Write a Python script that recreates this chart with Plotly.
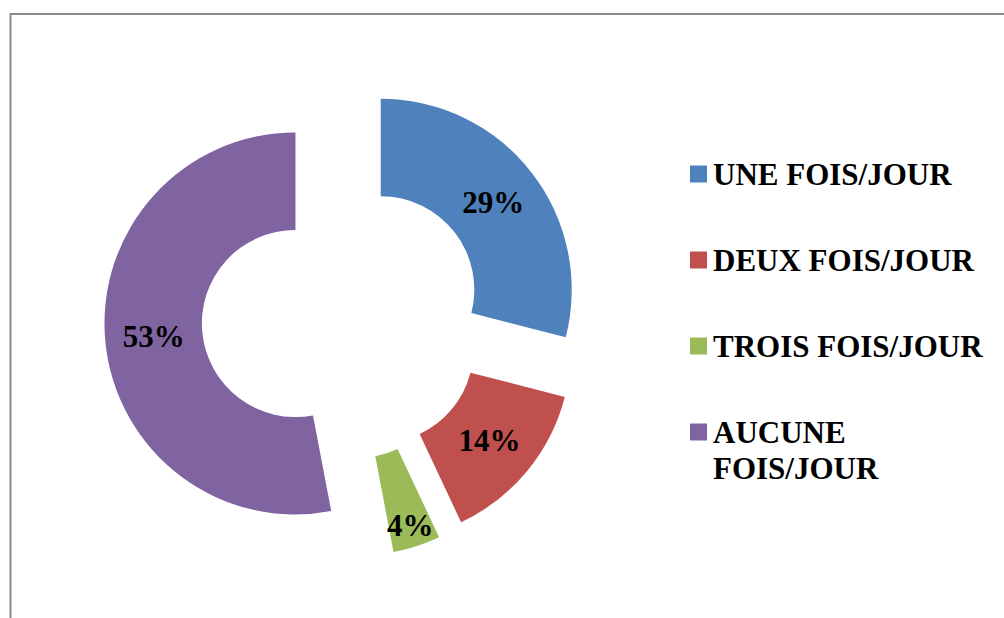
import plotly.graph_objects as go

# Daily frequency breakdown
labels = ["UNE FOIS/JOUR", "DEUX FOIS/JOUR", "TROIS FOIS/JOUR", "AUCUNE FOIS/JOUR"]
legend_lines = [["UNE FOIS/JOUR"], ["DEUX FOIS/JOUR"], ["TROIS FOIS/JOUR"], ["AUCUNE", "FOIS/JOUR"]]
values = [29, 14, 4, 53]
colors = ["#4F81BD", "#C0504D", "#9BBB59", "#8064A2"]

W, H = 1004, 618
FONT = "Liberation Serif, Times New Roman, serif"
FS = 31

# pie geometry in pixels
cx, cy = 343, 319
R = 191
pull = 0.25
half = R * (1 + pull)

fig = go.Figure(
    go.Pie(
        labels=labels,
        values=values,
        marker=dict(colors=colors, line=dict(width=0)),
        hole=0.49,
        pull=[pull] * len(values),
        sort=False,
        direction="clockwise",
        rotation=0,
        textinfo="percent",
        texttemplate="%{percent:.0%}",
        textposition="inside",
        insidetextorientation="horizontal",
        textfont=dict(family=FONT, size=FS, color="black", weight="bold"),
        hoverinfo="label+percent",
        showlegend=False,
        domain=dict(
            x=[(cx - half) / W, (cx + half) / W],
            y=[1 - (cy + half) / H, 1 - (cy - half) / H],
        ),
    )
)

# legend drawn as coloured squares with bold labels
shapes = []
annotations = []
leg_x_sq = 690
sq = 17
leg_x_txt = 711
leg_y0 = 174
leg_step = 86
line_step = 36
for i, (lines, col) in enumerate(zip(legend_lines, colors)):
    yc = leg_y0 + i * leg_step
    shapes.append(dict(
        type="rect", xref="paper", yref="paper",
        x0=leg_x_sq / W, x1=(leg_x_sq + sq) / W,
        y0=1 - (yc + sq / 2) / H, y1=1 - (yc - sq / 2) / H,
        fillcolor=col, line=dict(width=0),
    ))
    for j, txt in enumerate(lines):
        annotations.append(dict(
            text=txt, xref="paper", yref="paper",
            x=leg_x_txt / W, y=1 - (yc + j * line_step) / H,
            xanchor="left", yanchor="middle", showarrow=False,
            font=dict(family=FONT, size=FS, color="black", weight="bold"),
        ))

# chart frame
shapes.append(dict(
    type="rect", xref="paper", yref="paper",
    x0=10.5 / W, x1=1.05, y0=-0.05, y1=1 - 14 / H,
    line=dict(color="#8a8a8a", width=2), fillcolor="rgba(0,0,0,0)",
    layer="below",
))

fig.update_layout(
    width=W, height=H,
    margin=dict(l=0, r=0, t=0, b=0),
    paper_bgcolor="white",
    plot_bgcolor="white",
    shapes=shapes,
    annotations=annotations,
    uniformtext=dict(mode="show", minsize=FS),
)

fig.write_html("out.html")
